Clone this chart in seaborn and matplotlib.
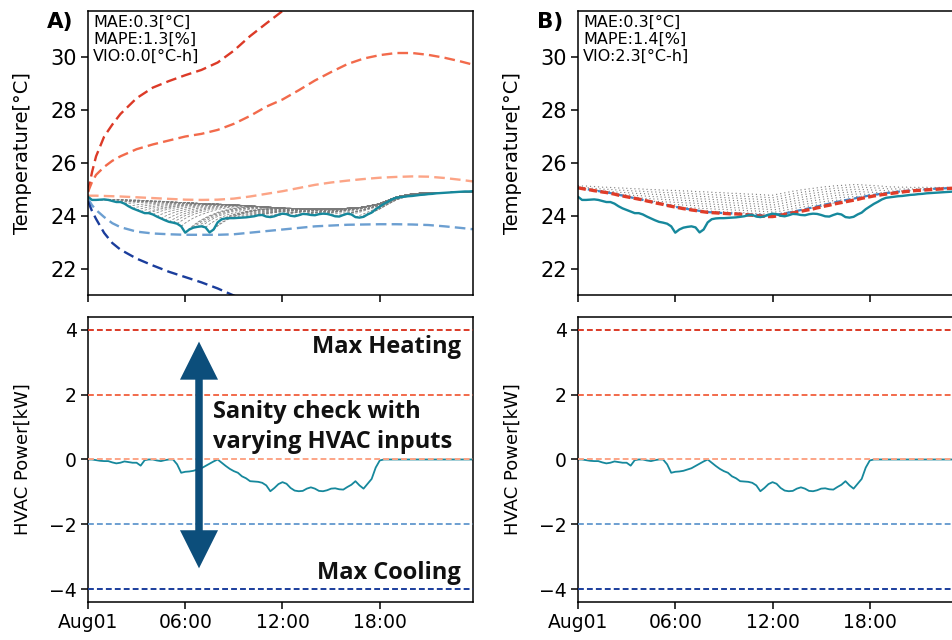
import numpy as np
import pandas as pd
import matplotlib
matplotlib.use("Agg")
import matplotlib.pyplot as plt
import seaborn as sns

# ---------------- data ----------------
STEP_H = 0.25                       # 15-minute resolution
N_STEPS = 96
# grid for the smooth scenario curves (denser at the start where they bend sharply)
SCEN_HOURS = [0, 0.25, 0.5, 1, 1.5, 2] + list(range(3, 24)) + [23.75]

X_TICKS = [0, 6, 12, 18]
X_TICK_LABELS = ["Aug01", "06:00", "12:00", "18:00"]

MEASURED_TEMP = [
    24.72, 24.60, 24.60, 24.61, 24.62, 24.60, 24.56, 24.52, 24.52, 24.46, 24.36, 24.28,
    24.22, 24.16, 24.10, 24.10, 24.05, 23.97, 23.90, 23.83, 23.77, 23.74, 23.70, 23.60,
    23.36, 23.48, 23.55, 23.58, 23.60, 23.56, 23.37, 23.48, 23.75, 23.87, 23.90, 23.91,
    23.91, 23.92, 23.93, 23.94, 23.96, 23.98, 24.02, 24.03, 23.97, 23.95, 23.98, 24.04,
    24.08, 24.06, 24.00, 23.98, 24.02, 24.07, 24.06, 24.03, 24.02, 24.06, 24.08, 24.07,
    24.03, 23.98, 23.97, 24.03, 24.08, 24.05, 23.95, 23.93, 23.96, 24.05, 24.12, 24.25,
    24.35, 24.45, 24.53, 24.62, 24.68, 24.70, 24.72, 24.74, 24.75, 24.77, 24.79, 24.80,
    24.82, 24.83, 24.85, 24.86, 24.87, 24.88, 24.89, 24.90, 24.91, 24.92, 24.92, 24.93]

HVAC_POWER = [
    0.0, 0.0, -0.02, -0.04, -0.05, -0.05, -0.09, -0.12, -0.10, -0.06, -0.08, -0.10,
    -0.10, -0.19, -0.02, 0.0, 0.0, -0.03, -0.05, -0.02, 0.0, 0.0, -0.15, -0.41,
    -0.38, -0.37, -0.35, -0.31, -0.27, -0.20, -0.13, -0.06, 0.0, -0.10, -0.20, -0.29,
    -0.36, -0.41, -0.52, -0.58, -0.67, -0.68, -0.69, -0.72, -0.80, -0.98, -0.88, -0.76,
    -0.70, -0.75, -0.88, -0.96, -0.98, -0.97, -0.90, -0.86, -0.90, -0.97, -0.98, -0.95,
    -0.90, -0.89, -0.92, -0.93, -0.85, -0.78, -0.67, -0.80, -0.90, -0.75, -0.60, -0.25,
    -0.03, 0.0, 0.0, 0.0, 0.0, 0.0, 0.0, 0.0, 0.0, 0.0, 0.0, 0.0,
    0.0, 0.0, 0.0, 0.0, 0.0, 0.0, 0.0, 0.0, 0.0, 0.0, 0.0, 0.0]

SCENARIO_LEVELS = [4, 2, 0, -2, -4]
SCENARIO_COLORS = ["#dc3a27", "#f26a4b", "#fca486", "#6c9fd1", "#1a3d9c"]
SCEN_TEMP_P4 = [24.90, 25.65, 26.25, 27.00, 27.45, 27.85, 28.45, 28.85, 29.10, 29.32, 29.52, 29.80,
                30.25, 30.80, 31.28, 31.75, 32.20, 32.60, 33.00, 33.40, 33.70, 34.00, 34.20, 34.30,
                34.40, 34.40, 34.30, 34.20]
SCEN_TEMP_P2 = [24.90, 25.28, 25.55, 25.85, 26.08, 26.25, 26.52, 26.70, 26.85, 27.00, 27.10, 27.25,
                27.48, 27.78, 28.13, 28.40, 28.75, 29.12, 29.44, 29.74, 29.95, 30.08, 30.16, 30.16,
                30.09, 29.98, 29.84, 29.72]
SCEN_TEMP_0 = [24.76, 24.76, 24.76, 24.75, 24.74, 24.73, 24.70, 24.67, 24.64, 24.61, 24.60, 24.61,
               24.65, 24.73, 24.83, 24.93, 25.05, 25.17, 25.26, 25.33, 25.39, 25.44, 25.47, 25.49,
               25.48, 25.43, 25.36, 25.30]
SCEN_TEMP_M2 = [24.65, 24.40, 24.22, 23.95, 23.72, 23.57, 23.40, 23.33, 23.30, 23.28, 23.28, 23.28,
                23.30, 23.36, 23.42, 23.48, 23.54, 23.60, 23.63, 23.66, 23.67, 23.68, 23.68, 23.67,
                23.65, 23.60, 23.54, 23.49]
SCEN_TEMP_M4 = [24.55, 24.18, 23.88, 23.35, 22.97, 22.72, 22.38, 22.12, 21.88, 21.68, 21.48, 21.25,
                20.98, 20.72, 20.47, 20.22, 20.00, 19.80, 19.60, 19.42, 19.30, 19.20, 19.10, 19.00,
                18.95, 18.90, 18.85, 18.80]
SCENARIO_TEMPS = [SCEN_TEMP_P4, SCEN_TEMP_P2, SCEN_TEMP_0, SCEN_TEMP_M2, SCEN_TEMP_M4]

# panel A: rolling forecasts converge to this trajectory, closing the gap as below
FAN_ENVELOPE_A = [
    24.70, 24.68, 24.67, 24.66, 24.65, 24.65, 24.64, 24.64, 24.63,
    24.62, 24.61, 24.60, 24.60, 24.59, 24.58, 24.57, 24.56, 24.55, 24.55, 24.54, 24.53, 24.52, 24.51, 24.50, 24.50,
    24.49, 24.48, 24.47, 24.46, 24.45, 24.45, 24.44, 24.44, 24.43, 24.42, 24.42, 24.41,
    24.40, 24.39, 24.38, 24.37, 24.36, 24.35, 24.34, 24.33, 24.32, 24.31, 24.30, 24.29,
    24.28, 24.28, 24.27, 24.27, 24.26, 24.26, 24.26, 24.25, 24.25, 24.25, 24.25, 24.25,
    24.26, 24.26, 24.27, 24.28, 24.29, 24.30, 24.31, 24.33,
    24.36, 24.39, 24.42, 24.46, 24.52, 24.58, 24.64, 24.70,
    24.74, 24.77, 24.80, 24.82, 24.84, 24.85, 24.86, 24.87, 24.87, 24.88, 24.88, 24.88,
    24.88, 24.89, 24.89, 24.89, 24.89, 24.89, 24.89]
FAN_GAP_DECAY = [1.0, 0.86, 0.74, 0.63, 0.54, 0.46, 0.39, 0.33, 0.27, 0.22, 0.18, 0.14,
                 0.11, 0.08, 0.06, 0.04, 0.025, 0.012, 0.0]

# panel B
FORECAST_B_RED = [
    25.06, 25.03, 25.00, 24.98, 24.95, 24.93, 24.90, 24.88, 24.85, 24.82, 24.78, 24.75,
    24.72, 24.69, 24.66, 24.63, 24.60, 24.56, 24.53, 24.49, 24.46, 24.43, 24.39, 24.36,
    24.33, 24.30, 24.27, 24.25, 24.22, 24.20, 24.17, 24.15, 24.13, 24.12, 24.11, 24.10,
    24.09, 24.08, 24.07, 24.07, 24.06, 24.05, 24.03, 24.02, 24.00, 23.99, 23.98, 23.97,
    23.97, 23.99, 24.02, 24.05, 24.08, 24.11, 24.14, 24.17, 24.20, 24.23, 24.26, 24.30,
    24.33, 24.37, 24.40, 24.44, 24.47, 24.50, 24.53, 24.56, 24.59, 24.62, 24.66, 24.69,
    24.72, 24.75, 24.77, 24.80, 24.82, 24.84, 24.86, 24.88, 24.90, 24.92, 24.93, 24.95,
    24.96, 24.97, 24.98, 24.99, 25.00, 25.01, 25.02, 25.03, 25.04, 25.04, 25.05, 25.05]
HOURS = list(range(24)) + [23.75]
FORECAST_B_BLUE = [25.06, 24.96, 24.86, 24.73, 24.60, 24.47, 24.34, 24.23, 24.14, 24.10, 24.07, 24.03,
                   24.02, 24.12, 24.25, 24.39, 24.53, 24.65, 24.77, 24.86, 24.93, 24.98, 25.02, 25.05, 25.06]
FAN_TOP_B = [
    25.15, 25.14, 25.14, 25.13, 25.12, 25.11, 25.10, 25.10, 25.09, 25.08, 25.07, 25.07,
    25.06, 25.05, 25.04, 25.04, 25.03, 25.02, 25.01, 25.01, 25.00, 24.99, 24.99, 24.98,
    24.98, 24.97, 24.96, 24.96, 24.95, 24.94, 24.93, 24.93, 24.92, 24.91, 24.90, 24.90,
    24.89, 24.88, 24.87, 24.87, 24.86, 24.85, 24.84, 24.84, 24.83, 24.82, 24.81, 24.80,
    24.80, 24.83, 24.86, 24.89, 24.92, 24.95, 24.97, 25.00, 25.02, 25.04, 25.06, 25.08,
    25.10, 25.12, 25.13, 25.15, 25.16, 25.17, 25.18, 25.19, 25.20, 25.20, 25.19, 25.18,
    25.17, 25.16, 25.15, 25.14, 25.12, 25.11, 25.11, 25.10, 25.10, 25.10, 25.09, 25.09,
    25.09, 25.09, 25.09, 25.08, 25.08, 25.08, 25.08, 25.08, 25.07, 25.07, 25.07, 25.07]

METRICS_A = ["MAE:0.3[°C]", "MAPE:1.3[%]", "VIO:0.0[°C-h]"]
METRICS_B = ["MAE:0.3[°C]", "MAPE:1.4[%]", "VIO:2.3[°C-h]"]
PANEL_LABELS = ["A)", "B)"]

TEAL = "#16889c"
GRAY = "#7a7a7a"
ARROW_BLUE = "#0c4e7b"
BOLD_FONT = ["Open Sans", "DejaVu Sans"]

# ---------------- figure ----------------
sns.set_theme(style="ticks")
plt.rcParams["font.family"] = ["DejaVu Sans"]
for key in ("text.color", "axes.labelcolor", "xtick.color", "ytick.color", "axes.edgecolor"):
    plt.rcParams[key] = "black"
plt.rcParams["axes.linewidth"] = 1.1

fig = plt.figure(figsize=(9.53, 6.4), dpi=100)
ax_ta = fig.add_axes([0.0923, 0.539, 0.404, 0.4438])
ax_ba = fig.add_axes([0.0923, 0.0594, 0.404, 0.4453])
ax_tb = fig.add_axes([0.6065, 0.539, 0.404, 0.4438])
ax_bb = fig.add_axes([0.6065, 0.0594, 0.404, 0.4453])

t = np.arange(N_STEPS) * STEP_H
measured = np.array(MEASURED_TEMP)
hvac = np.array(HVAC_POWER)

# ---- panel A top: scenarios + rolling forecast fan ----
env = np.array(FAN_ENVELOPE_A)
decay = np.array(FAN_GAP_DECAY)
rows = []
for s in range(1, 76):
    gap = measured[s] - env[s]
    for k in range(s, N_STEPS):
        d = decay[k - s] if k - s < len(decay) else 0.0
        rows.append((s, t[k], env[k] + gap * d))
fan_a = pd.DataFrame(rows, columns=["run", "t", "temp"])
sns.lineplot(data=fan_a, x="t", y="temp", units="run", estimator=None, ax=ax_ta,
             color=GRAY, lw=0.6, linestyle=(0, (3, 2)), alpha=0.9, legend=False)

for vals, col in zip(SCENARIO_TEMPS, SCENARIO_COLORS):
    sns.lineplot(x=SCEN_HOURS, y=vals, ax=ax_ta, color=col, lw=1.7,
                 linestyle=(0, (4.5, 2.2)), legend=False)
sns.lineplot(x=t, y=measured, ax=ax_ta, color=TEAL, lw=1.7, legend=False)

# ---- panel B top ----
red_b = np.array(FORECAST_B_RED)
top_b = np.array(FAN_TOP_B)
rows = []
for s in range(N_STEPS - 1):
    rows.append((s, t[s], top_b[s]))
    rows.append((s, t[s + 1], red_b[s + 1]))
fan_b = pd.DataFrame(rows, columns=["run", "t", "temp"])
sns.lineplot(data=fan_b, x="t", y="temp", units="run", estimator=None, ax=ax_tb,
             color=GRAY, lw=0.8, linestyle=(0, (1, 1.2)), legend=False)
sns.lineplot(x=HOURS, y=FORECAST_B_BLUE, ax=ax_tb, color="#3f86c6", lw=1.6,
             linestyle=(0, (3, 1.5)), legend=False)
sns.lineplot(x=t, y=red_b, ax=ax_tb, color="#e03c28", lw=2.4,
             linestyle=(0, (2.4, 1.0)), legend=False)
sns.lineplot(x=t, y=measured, ax=ax_tb, color=TEAL, lw=1.7, legend=False)

# ---- bottom panels ----
for ax in (ax_ba, ax_bb):
    sns.lineplot(x=t, y=hvac, ax=ax, color=TEAL, lw=1.3, legend=False, zorder=2)
    for lvl, col in zip(SCENARIO_LEVELS, SCENARIO_COLORS):
        ax.axhline(lvl, color=col, lw=1.4, linestyle=(0, (3, 1.6)), zorder=3)

# annotations in panel A bottom
ax_ba.text(23.0, 3.48, "Max Heating", ha="right", va="center", fontsize=17,
           fontweight="bold", family=BOLD_FONT, color="#111111")
ax_ba.text(23.0, -3.5, "Max Cooling", ha="right", va="center", fontsize=17,
           fontweight="bold", family=BOLD_FONT, color="#111111")
ax_ba.text(7.73, 1.0, "Sanity check with\nvarying HVAC inputs", ha="left", va="center",
           fontsize=17, fontweight="bold", family=BOLD_FONT,
           color="#111111", linespacing=1.35)
arrow_x = 6.85
ax_ba.plot([arrow_x, arrow_x], [2.6, -2.3], color=ARROW_BLUE, lw=5.4,
           solid_capstyle="butt", zorder=5)
for tip, base in (((arrow_x, 3.64), (arrow_x, 2.0)), ((arrow_x, -3.36), (arrow_x, -1.7))):
    ax_ba.annotate("", xy=tip, xytext=base,
                   arrowprops=dict(arrowstyle="-|>,head_length=1.0,head_width=0.5",
                                   mutation_scale=27.4, lw=0, color=ARROW_BLUE,
                                   shrinkA=0, shrinkB=0), zorder=6)

# ---------------- axes cosmetics ----------------
for ax in (ax_ta, ax_tb):
    ax.set_xlim(0, 23.75)
    ax.set_ylim(21.0, 31.75)
    ax.set_yticks([22, 24, 26, 28, 30])
    ax.set_xticks(X_TICKS)
    ax.tick_params(axis="x", labelbottom=False, length=5, width=1.1)
    ax.tick_params(axis="y", labelsize=15, length=5, width=1.1, pad=3)
    ax.set_xlabel("")
    ax.set_ylabel("Temperature[°C]", fontsize=14)
    ax.yaxis.set_label_coords(-0.145, 0.5)

for ax in (ax_ba, ax_bb):
    ax.set_xlim(0, 23.75)
    ax.set_ylim(-4.4, 4.4)
    ax.set_yticks([-4, -2, 0, 2, 4])
    ax.set_xticks(X_TICKS)
    ax.set_xticklabels(X_TICK_LABELS)
    ax.tick_params(axis="both", labelsize=13.5, length=5, width=1.1, pad=3)
    ax.set_xlabel("")
    ax.set_ylabel("HVAC Power[kW]", fontsize=13)
    ax.yaxis.set_label_coords(-0.145, 0.5)

for ax, lines, lab in ((ax_ta, METRICS_A, PANEL_LABELS[0]), (ax_tb, METRICS_B, PANEL_LABELS[1])):
    ax.text(0.013, 0.985, "\n".join(lines), transform=ax.transAxes, ha="left", va="top",
            fontsize=11.5, linespacing=1.15)
    ax.text(-0.106, 0.962, lab, transform=ax.transAxes, ha="left", va="center",
            fontsize=15.5, fontweight="bold")

fig.savefig("out.png", dpi=100)
